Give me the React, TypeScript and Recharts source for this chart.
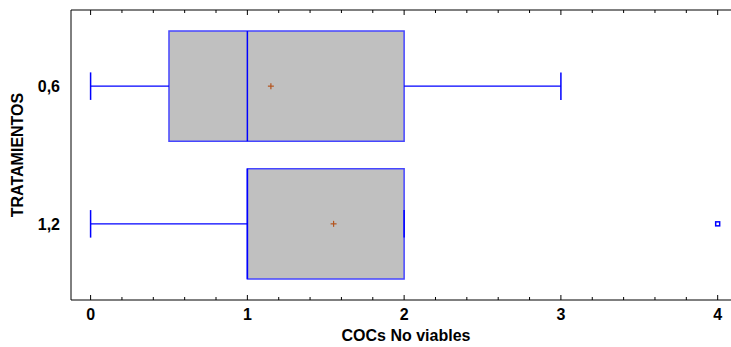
import { ScatterChart, Scatter, XAxis, YAxis, ReferenceArea, ReferenceLine } from 'recharts'

const treatments = ['0,6', '1,2']
const positions = [1, 2]
const whiskerLow = [0, 0]
const q1 = [0.5, 1]
const medians = [1, 1]
const q3 = [2, 2]
const whiskerHigh = [3, 2]
const means = [1.15, 1.55]
const outliers = [{ x: 4, y: 2 }]

const xTicks = [0, 0.2, 0.4, 0.6, 0.8, 1, 1.2, 1.4, 1.6, 1.8, 2, 2.2, 2.4, 2.6, 2.8, 3, 3.2, 3.4, 3.6, 3.8, 4]

const BLUE = '#0000ff'
const BOX_STROKE = '#4646ff'
const FONT = '"Liberation Sans", Arial, sans-serif'
const FS = 16
const HALF_BOX = 0.4
const HALF_CAP = 0.1

const meanData = means.map((m, i) => ({ x: m, y: positions[i] }))

const isMajor = (v: number) => Math.abs(v - Math.round(v)) < 1e-6

function BottomTick({ x, y, payload }: any) {
  const major = isMajor(payload.value)
  return (
    <g>
      <line x1={x} x2={x} y1={y} y2={y - (major ? 5 : 3)} stroke="#000" />
      {major && (
        <text x={x} y={y + 20} textAnchor="middle" fontSize={FS} fontWeight="bold" fontFamily={FONT} fill="#000">
          {Math.round(payload.value)}
        </text>
      )}
    </g>
  )
}

function TopTick({ x, y, payload }: any) {
  const major = isMajor(payload.value)
  return <line x1={x} x2={x} y1={y} y2={y + (major ? 5 : 3)} stroke="#000" />
}

function LeftTick({ x, y, payload }: any) {
  return (
    <text x={x} y={y + 6} textAnchor="end" fontSize={FS} fontWeight="bold" fontFamily={FONT} fill="#000">
      {treatments[positions.indexOf(payload.value)]}
    </text>
  )
}

function MeanMark({ cx, cy }: any) {
  return (
    <g stroke="#b4541e" strokeWidth={1.2}>
      <line x1={cx - 3} x2={cx + 3} y1={cy} y2={cy} />
      <line x1={cx} x2={cx} y1={cy - 3} y2={cy + 3} />
    </g>
  )
}

function OutlierMark({ cx, cy }: any) {
  return <rect x={cx - 2} y={cy - 2} width={4} height={4} fill="#fff" stroke={BLUE} strokeWidth={1.5} />
}

export default function App() {
  return (
    <div style={{ position: 'absolute', left: 0, top: 0, width: 731, height: 347, background: '#fff' }}>
      <ScatterChart width={731} height={347} margin={{ top: 0, right: 0, bottom: 0, left: 0 }}>
        <XAxis
          xAxisId="b"
          type="number"
          dataKey="x"
          domain={[-0.125, 4.085]}
          ticks={xTicks}
          interval={0}
          allowDataOverflow
          height={47}
          tickSize={0}
          tickMargin={0}
          tickLine={false}
          axisLine={{ stroke: '#000' }}
          tick={<BottomTick />}
          label={({ viewBox }: any) => (
            <text
              x={viewBox.x + viewBox.width / 2 + 5}
              y={341}
              textAnchor="middle"
              fontSize={FS}
              fontWeight="bold"
              fontFamily={FONT}
              fill="#000"
            >
              COCs No viables
            </text>
          )}
        />
        <XAxis
          xAxisId="t"
          orientation="top"
          type="number"
          dataKey="x"
          domain={[-0.125, 4.085]}
          ticks={xTicks}
          interval={0}
          allowDataOverflow
          height={10}
          tickSize={0}
          tickMargin={0}
          tickLine={false}
          axisLine={{ stroke: '#000' }}
          tick={<TopTick />}
        />
        <YAxis
          yAxisId="l"
          type="number"
          dataKey="y"
          reversed
          domain={[0.447, 2.553]}
          ticks={positions}
          interval={0}
          allowDataOverflow
          width={71}
          tickSize={0}
          tickMargin={11}
          tickLine={false}
          axisLine={{ stroke: '#000' }}
          tick={<LeftTick />}
          label={({ viewBox }: any) => (
            <text
              x={17}
              y={viewBox.y + viewBox.height / 2}
              transform={`rotate(-90 17 ${viewBox.y + viewBox.height / 2})`}
              textAnchor="middle"
              dominantBaseline="central"
              fontSize={FS}
              fontWeight="bold"
              fontFamily={FONT}
              fill="#000"
            >
              TRATAMIENTOS
            </text>
          )}
        />

        {positions.map((p, i) => (
          <ReferenceLine
            key={`wl${i}`}
            xAxisId="b"
            yAxisId="l"
            segment={[{ x: whiskerLow[i], y: p }, { x: q1[i], y: p }]}
            stroke={BLUE}
            strokeWidth={1.2}
          />
        ))}
        {positions.map((p, i) => (
          <ReferenceLine
            key={`wh${i}`}
            xAxisId="b"
            yAxisId="l"
            segment={[{ x: q3[i], y: p }, { x: whiskerHigh[i], y: p }]}
            stroke={BLUE}
            strokeWidth={1.2}
          />
        ))}
        {positions.map((p, i) => (
          <ReferenceArea
            key={`box${i}`}
            xAxisId="b"
            yAxisId="l"
            x1={q1[i]}
            x2={q3[i]}
            y1={p - HALF_BOX}
            y2={p + HALF_BOX}
            fill="#c0c0c0"
            fillOpacity={1}
            stroke={BOX_STROKE}
            strokeWidth={1.5}
          />
        ))}
        {positions.map((p, i) => (
          <ReferenceLine
            key={`med${i}`}
            xAxisId="b"
            yAxisId="l"
            segment={[{ x: medians[i], y: p - HALF_BOX }, { x: medians[i], y: p + HALF_BOX }]}
            stroke={BLUE}
            strokeWidth={1.5}
          />
        ))}
        {positions.map((p, i) => (
          <ReferenceLine
            key={`capl${i}`}
            xAxisId="b"
            yAxisId="l"
            segment={[{ x: whiskerLow[i], y: p - HALF_CAP }, { x: whiskerLow[i], y: p + HALF_CAP }]}
            stroke={BLUE}
            strokeWidth={1.5}
          />
        ))}
        {positions.map((p, i) => (
          <ReferenceLine
            key={`caph${i}`}
            xAxisId="b"
            yAxisId="l"
            segment={[{ x: whiskerHigh[i], y: p - HALF_CAP }, { x: whiskerHigh[i], y: p + HALF_CAP }]}
            stroke={BLUE}
            strokeWidth={1.5}
          />
        ))}

        <Scatter xAxisId="b" yAxisId="l" data={meanData} shape={<MeanMark />} isAnimationActive={false} />
        <Scatter xAxisId="b" yAxisId="l" data={outliers} shape={<OutlierMark />} isAnimationActive={false} />
      </ScatterChart>
    </div>
  )
}
